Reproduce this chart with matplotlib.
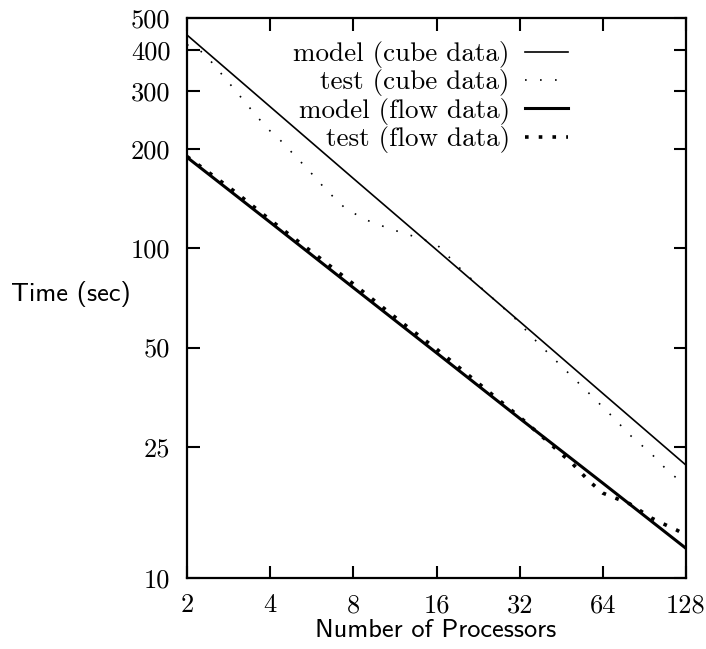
import matplotlib
matplotlib.use("Agg")
import matplotlib.pyplot as plt
from matplotlib.ticker import FixedLocator, NullLocator

plt.rcParams['axes.formatter.use_mathtext'] = True

# model curves, read at powers of two
procs = [2, 4, 8, 16, 32, 64, 128]
model_cube = [444, 269, 163, 99, 60, 36.3, 22.0]
model_flow = [189, 120, 76, 48.2, 30.5, 19.4, 12.3]

test_cube_p = [2, 2.3, 2.9, 3.6, 4, 4.35, 5.5, 6.4, 7.5, 8.9, 10.9, 13.6, 16,
               20, 26, 32, 34.6, 40.5, 48, 56, 64, 69, 80, 96, 112, 128]
test_cube_t = [415, 392, 311, 250, 227, 213, 173, 150, 132, 122, 114.5, 108, 103,
               85, 69.7, 59.5, 55, 48.2, 41.9, 36.9, 33, 31, 27.2, 23.8, 20.8, 19.2]

test_flow_p = [2, 3, 4, 6, 8, 12, 16, 24, 32, 41, 45, 49, 53, 57, 64, 72, 80,
               96, 106, 118, 128]
test_flow_t = [190, 148, 122, 94, 78, 59.5, 49.5, 37.5, 30.8, 25.7, 23.9, 22.5,
               21.0, 19.7, 18.1, 17.4, 16.8, 15.2, 14.6, 14.0, 13.5]

xticks = [2, 4, 8, 16, 32, 64, 128]
yticks = [10, 25, 50, 100, 200, 300, 400, 500]

fig = plt.figure(figsize=(7.06, 6.49), dpi=100)
ax = fig.add_axes([187/706, 1 - 578/649, (686-187)/706, (578-18)/649])

ax.plot(procs, model_cube, color='black', lw=1.2, label='model (cube data)')
ax.plot(test_cube_p, test_cube_t, color='black', lw=1.2, ls=(0, (1, 8)),
        label='test (cube data)')
ax.plot(procs, model_flow, color='black', lw=2.2, label='model (flow data)')
ax.plot(test_flow_p, test_flow_t, color='black', lw=2.6, ls=(0, (1, 2.8)),
        label='test (flow data)')

ax.set_xscale('log', base=2)
ax.set_yscale('log')
ax.set_xlim(2, 128)
ax.set_ylim(10, 500)

ax.xaxis.set_major_locator(FixedLocator(xticks))
ax.yaxis.set_major_locator(FixedLocator(yticks))
ax.xaxis.set_minor_locator(NullLocator())
ax.yaxis.set_minor_locator(NullLocator())
ax.set_xticklabels([str(v) for v in xticks], fontfamily='cmr10', fontsize=19)
ax.set_yticklabels([str(v) for v in yticks], fontfamily='cmr10', fontsize=19)
ax.tick_params(direction='in', length=9, width=1.5, top=True, right=True)
ax.tick_params(axis='x', pad=11)
ax.tick_params(axis='y', pad=12)
for sp in ax.spines.values():
    sp.set_linewidth(1.6)

leg = ax.legend(loc='upper right', bbox_to_anchor=(568/706, 1 - 41/649),
                bbox_transform=fig.transFigure, frameon=False, markerfirst=False,
                handlelength=1.6, handletextpad=0.55, labelspacing=0.05,
                borderpad=0, borderaxespad=0,
                prop={'family': 'cmr10', 'size': 19.5})

fig.text(71/706, 1 - 301/649, 'Time (sec)', family='cmss10', fontsize=19,
         ha='center', va='baseline')
fig.text(436/706, 1 - 637/649, 'Number of Processors', family='cmss10',
         fontsize=19, ha='center', va='baseline')

fig.savefig('out.png', dpi=100)
